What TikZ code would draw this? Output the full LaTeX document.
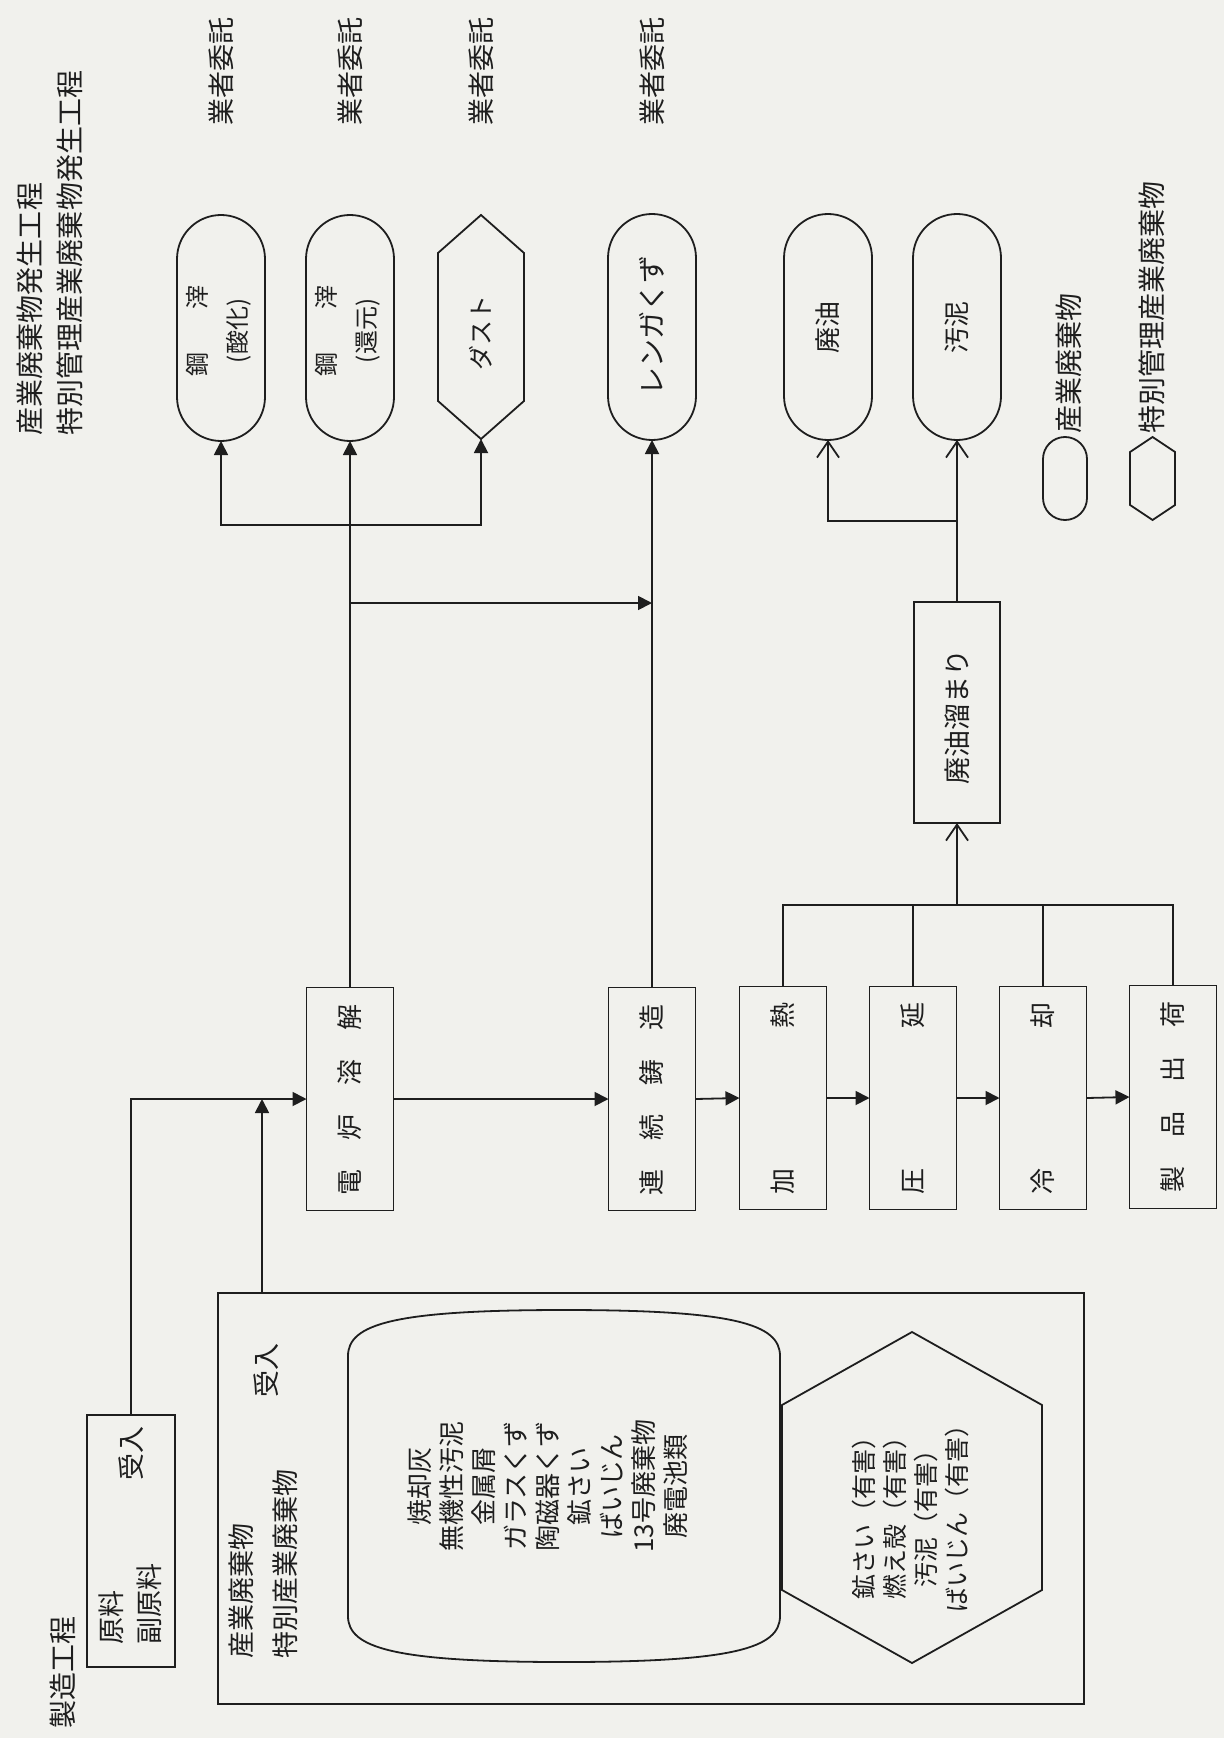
\documentclass[tikz,border=0pt]{standalone}
\usepackage{fontspec}
\setmainfont{Noto Sans CJK JP}
\usetikzlibrary{arrows.meta,calc}
\definecolor{paper}{RGB}{241,241,237}
\definecolor{ink}{RGB}{30,30,30}
\newcommand\hexoutline[2]{\draw[shapeline] (#1.north) -- ($(#1.north east)+(0,#2)$) -- ($(#1.south east)-(0,#2)$) -- (#1.south) -- ($(#1.south west)-(0,#2)$) -- ($(#1.north west)+(0,#2)$) -- cycle;}
\begin{document}
\begin{tikzpicture}[x=0.5pt,y=-0.5pt,
  shapeline/.style={draw=ink, line width=0.9pt},
  area/.style={rectangle, inner sep=0pt, outer sep=0pt},
  procbox/.style={area, shapeline, minimum width=43.5pt, minimum height=111.5pt},
  oval/.style={area, shapeline, minimum width=44pt, minimum height=113pt, rounded corners=22pt},
  txt/.style={rotate=90, inner sep=0pt, outer sep=0pt, text=ink, font=\fontsize{13pt}{16pt}\selectfont},
  txtb/.style={txt, font=\fontsize{14pt}{17pt}\selectfont},
  txtm/.style={txt, font=\fontsize{13.5pt}{17pt}\selectfont},
  conn/.style={draw=ink, line width=0.9pt},
  tri/.style={conn, -{Triangle[length=7pt,width=7pt]}},
  barb/.style={conn, -{Straight Barb[length=8pt,width=11pt]}},
]
\fill[paper] (0,0) rectangle (1224,1738);
\useasboundingbox (0,0) rectangle (1224,1738);

% titles
\node[txtb, anchor=west] (t1) at (30,435) {産業廃棄物発生工程};
\node[txtb, anchor=west] (t2) at (70,435) {特別管理産業廃棄物発生工程};
\node[txtb, anchor=west] (t3) at (63,1728) {製造工程};

% contractor labels
\node[txtm] (g1) at (221,72) {業者委託};
\node[txtm] (g2) at (350,72) {業者委託};
\node[txtm] (g3) at (481,72) {業者委託};
\node[txtm] (g4) at (652,72) {業者委託};

% waste outputs
\node[oval] (o1) at (221,328) {};
\node[txt, align=center, font=\fontsize{12pt}{20pt}\selectfont] (o1t) at (219,331) {鋼\hspace{21pt}滓\\(酸化)};
\node[oval] (o2) at (350,328) {};
\node[txt, align=center, font=\fontsize{12pt}{20pt}\selectfont] (o2t) at (348,331) {鋼\hspace{21pt}滓\\(還元)};
\node[area, minimum width=43pt, minimum height=112pt] (dust) at (481,327) {};
\hexoutline{dust}{38}
\node[txt, font=\fontsize{12.5pt}{16pt}\selectfont] (dustt) at (481,333) {ダスト};
\node[oval] (brick) at (652,327) {};
\node[txtb] (brickt) at (652,325) {レンガくず};
\node[oval] (o4) at (828,327) {};
\node[txt] (o4t) at (828,327) {廃油};
\node[oval] (o5) at (957,327) {};
\node[txt] (o5t) at (957,327) {汚泥};

% legend
\node[area, shapeline, minimum width=22pt, minimum height=41.5pt, rounded corners=11pt] (lov) at (1065,478.5) {};
\node[txtb, anchor=west] (lovt) at (1069,433) {産業廃棄物};
\node[area, minimum width=22.5pt, minimum height=41.5pt] (lhx) at (1152.5,478.5) {};
\hexoutline{lhx}{15}
\node[txtb, anchor=west] (lhxt) at (1152,433) {特別管理産業廃棄物};

% process boxes
\node[procbox] (furn) at (350,1099) {};
\node[txt] (furnt) at (350,1100) {電\hspace{14.5pt}炉\hspace{14.5pt}溶\hspace{14.5pt}解};
\node[procbox] (cast) at (652,1099) {};
\node[txt] (castt) at (652,1100) {連\hspace{14.5pt}続\hspace{14.5pt}鋳\hspace{14.5pt}造};
\node[procbox] (heat) at (783,1098) {};
\node[txt] (heatt) at (783,1098) {加\hspace{70pt}熱};
\node[procbox] (roll) at (913,1098) {};
\node[txt] (rollt) at (913,1098) {圧\hspace{70pt}延};
\node[procbox] (cool) at (1043,1098) {};
\node[txt] (coolt) at (1043,1098) {冷\hspace{70pt}却};
\node[procbox] (ship) at (1173,1097) {};
\node[txt] (shipt) at (1173,1097) {製\hspace{14.5pt}品\hspace{14.5pt}出\hspace{14.5pt}荷};

% oil pit
\node[area, shapeline, minimum width=43pt, minimum height=110.5pt] (pit) at (957,712.5) {};
\node[txtm] (pitt) at (957,717) {廃油溜まり};

% raw material input
\node[area, shapeline, minimum width=44pt, minimum height=126pt] (raw) at (131,1541) {};
\node[txtm, anchor=west] (rawt1) at (111,1644) {原料};
\node[txtm, anchor=west] (rawt2) at (149,1644) {副原料};
\node[txtm] (rawt3) at (131,1453) {受入};

% waste input area
\node[area, shapeline, minimum width=433pt, minimum height=205.5pt] (big) at (651,1498.5) {};
\node[txtm, anchor=west] (bigt1) at (241,1658) {産業廃棄物};
\node[txtm, anchor=west] (bigt2) at (285,1658) {特別産業廃棄物};
\node[txtm] (bigt3) at (266,1370) {受入};

\node[area, minimum width=216pt, minimum height=176pt] (wst) at (564,1486) {};
\draw[shapeline] ($(wst.north west)+(0,46)$) .. controls ($(wst.north west)+(0,14)$) and ($(wst.north)+(-170,0)$) .. (wst.north)
  .. controls ($(wst.north)+(170,0)$) and ($(wst.north east)+(0,14)$) .. ($(wst.north east)+(0,46)$)
  -- ($(wst.south east)-(0,46)$)
  .. controls ($(wst.south east)-(0,14)$) and ($(wst.south)+(170,0)$) .. (wst.south)
  .. controls ($(wst.south)+(-170,0)$) and ($(wst.south west)-(0,14)$) .. ($(wst.south west)-(0,46)$) -- cycle;
\node[txt, align=center, font=\fontsize{13pt}{16pt}\selectfont] (wstt) at (548,1486)
  {焼却灰\\無機性汚泥\\金属屑\\ガラスくず\\陶磁器くず\\鉱さい\\ばいじん\\13号廃棄物\\廃電池類};

\node[area, minimum width=130pt, minimum height=165.5pt] (hx) at (912,1497.5) {};
\hexoutline{hx}{73}
\node[txt, align=center, font=\fontsize{12.5pt}{15.5pt}\selectfont] (hxt) at (910,1512)
  {鉱さい（有害）\\燃え殻（有害）\\汚泥（有害）\\ばいじん（有害）};

% connectors
\coordinate (b1) at (350,525);
\coordinate (b2) at (350,603);
\coordinate (b3) at (957,521);
\coordinate (cl) at (957,905);
\coordinate (j2) at (262,1099);

\draw[tri] (furn.north) -- (o2.south);
\draw[tri] (b1) -| (o1.south);
\draw[tri] (b1) -| (dust.south);
\draw[tri] (b2) -- (b2 -| cast.north);
\draw[tri] (cast.north) -- (brick.south);

\draw[tri] (raw.north) |- (furn.west);
\draw[tri] (big.north -| j2) -- (j2);

\draw[tri] (furn.east) -- (cast.west);
\draw[tri] (cast.east) -- (heat.west);
\draw[tri] (heat.east) -- (roll.west);
\draw[tri] (roll.east) -- (cool.west);
\draw[tri] (cool.east) -- (ship.west);

\draw[conn] (heat.north) |- (ship.north |- cl) -- (ship.north);
\draw[conn] (roll.north) -- (roll.north |- cl);
\draw[conn] (cool.north) -- (cool.north |- cl);
\draw[barb] (cl) -- (pit.south);
\draw[barb] (pit.north) -- (o5.south);
\draw[barb] (b3) -| (o4.south);
\end{tikzpicture}
\end{document}
